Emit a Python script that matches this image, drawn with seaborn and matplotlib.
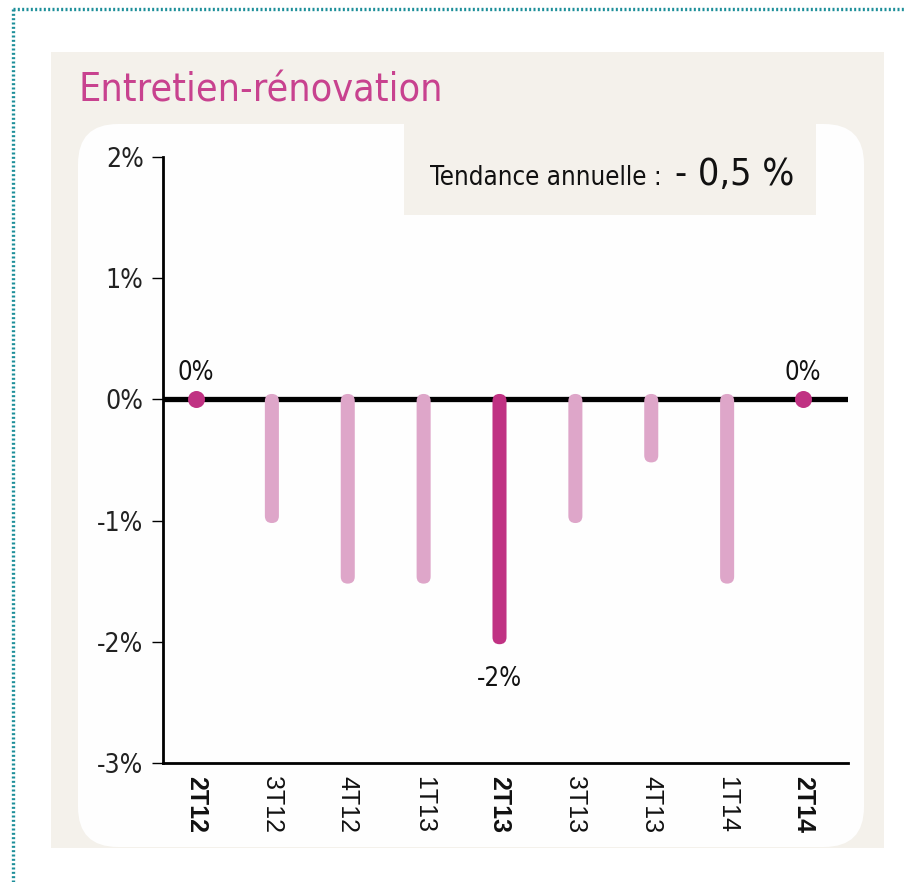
import numpy as np
import pandas as pd
import matplotlib
matplotlib.use("Agg")
import matplotlib.pyplot as plt
from matplotlib import font_manager as fm
from matplotlib.patches import FancyBboxPatch, Rectangle
import seaborn as sns

# données
trimestres = ["2T12", "3T12", "4T12", "1T13", "2T13", "3T13", "4T13", "1T14", "2T14"]
valeurs = [0, -1, -1.5, -1.5, -2, -1, -0.5, -1.5, 0]
en_gras = ["2T12", "2T13", "2T14"]
etiquettes = {"2T12": "0%", "2T13": "-2%", "2T14": "0%"}
yticks = [2, 1, 0, -1, -2, -3]
titre = "Entretien-rénovation"
tendance_txt = "Tendance annuelle :"
tendance_val = "- 0,5 %"

ROSE = "#dea6c9"
MAGENTA = "#c03283"
TITRE_COL = "#c8428f"
BEIGE = "#f4f1eb"

sns.set_style("white")
plt.rcParams["font.family"] = ["Liberation Sans", "DejaVu Sans"]

# police étroite si disponible
noms = {f.name for f in fm.fontManager.ttflist}
if "Liberation Sans Narrow" in noms:
    NARROW = dict(family="Liberation Sans Narrow")
    k = 1.2
elif any(f.name == "DejaVu Sans" and f.stretch == "condensed" for f in fm.fontManager.ttflist):
    NARROW = dict(family="DejaVu Sans", stretch="condensed")
    k = 1.0
else:
    NARROW = dict(family="Liberation Sans")
    k = 1.0

df = pd.DataFrame({"trimestre": trimestres, "valeur": valeurs})
df["type"] = np.where(df["trimestre"].isin(en_gras), "fort", "normal")

W, H = 905, 882
fig = plt.figure(figsize=(W / 100, H / 100), dpi=100)
fig.patch.set_facecolor("white")

# fond en pixels
bg = fig.add_axes([0, 0, 1, 1], zorder=-1)
bg.set_xlim(0, W)
bg.set_ylim(H, 0)
bg.axis("off")
bg.plot([13, W], [9, 9], color="#1d8f9a", lw=2.4, ls=(0, (0.6, 0.7)))
bg.plot([13, 13], [9, H], color="#1d8f9a", lw=2.4, ls=(0, (0.6, 0.7)))
bg.add_patch(Rectangle((51, 52), 833, 796, color=BEIGE, lw=0))
bg.add_patch(FancyBboxPatch((78, 124), 786, 723, boxstyle="round,pad=0,rounding_size=40",
                            fc="#fefefe", ec="none"))
bg.add_patch(Rectangle((404, 120), 412, 95, color=BEIGE, lw=0))
bg.text(78, 101, titre, color=TITRE_COL, fontsize=28.3 * k, va="baseline", **NARROW)
bg.text(430, 185, tendance_txt, fontsize=18.5 * k, va="baseline", color="#111111", **NARROW)
bg.text(675, 185, tendance_val, fontsize=27 * k, va="baseline", color="#111111", **NARROW)

# graphique
x0, x1, y0, y1 = 163, 848, 157, 763
ax = fig.add_axes([x0 / W, 1 - y1 / H, (x1 - x0) / W, (y1 - y0) / H])
ax.patch.set_alpha(0)

sns.barplot(data=df, x="trimestre", y="valeur", hue="type",
            palette={"fort": MAGENTA, "normal": ROSE}, width=0.185, saturation=1,
            dodge=False, legend=False, ax=ax, zorder=3)

ax.set_xlim(-0.435, 8.593)
ax.set_ylim(-3, 2)

# barres aux bouts arrondis
px_x = 75.875
px_y = 121.2
for p in list(ax.patches):
    x, w = p.get_x(), p.get_width()
    h = p.get_height()
    col = p.get_facecolor()
    p.remove()
    if h == 0:
        continue
    top = 0.045
    bot = h - 0.02
    r = 7 / px_x
    ax.add_patch(FancyBboxPatch((x, bot), w, top - bot,
                                boxstyle=f"round,pad=0,rounding_size={r}",
                                mutation_aspect=px_x / px_y, fc=col, ec="none", zorder=3))

zeros = df[df["valeur"] == 0]
sns.scatterplot(data=zeros, x="trimestre", y="valeur", color=MAGENTA, s=150,
                linewidth=0, ax=ax, zorder=4)

ax.axhline(0, color="black", lw=3.8, zorder=2)

for i, tr in enumerate(trimestres):
    if tr in etiquettes:
        v = valeurs[i]
        if v < 0:
            ax.text(i, v - 0.2, etiquettes[tr], ha="center", va="top", fontsize=18.5 * k,
                    color="#111111", **NARROW)
        else:
            ax.text(i, v + 0.11, etiquettes[tr], ha="center", va="bottom", fontsize=18.5 * k,
                    color="#111111", **NARROW)

ax.set_yticks(yticks)
ax.set_yticklabels([f"{v}%" for v in yticks], fontsize=19 * k, color="#222222", **NARROW)
ax.tick_params(axis="y", length=8, width=1, pad=6, color="black", left=True)
ax.tick_params(axis="x", length=0, pad=9)
ax.set_xticks(range(len(trimestres)))
ax.set_xticklabels(trimestres, rotation=270, fontsize=18, va="top", ha="center", color="#111111")
for lab in ax.get_xticklabels():
    if lab.get_text() in en_gras:
        lab.set_fontweight("bold")
ax.set_xlabel("")
ax.set_ylabel("")
sns.despine(ax=ax)
for s in ["left", "bottom"]:
    ax.spines[s].set_linewidth(2)
    ax.spines[s].set_color("black")

fig.savefig("out.png", dpi=100)
